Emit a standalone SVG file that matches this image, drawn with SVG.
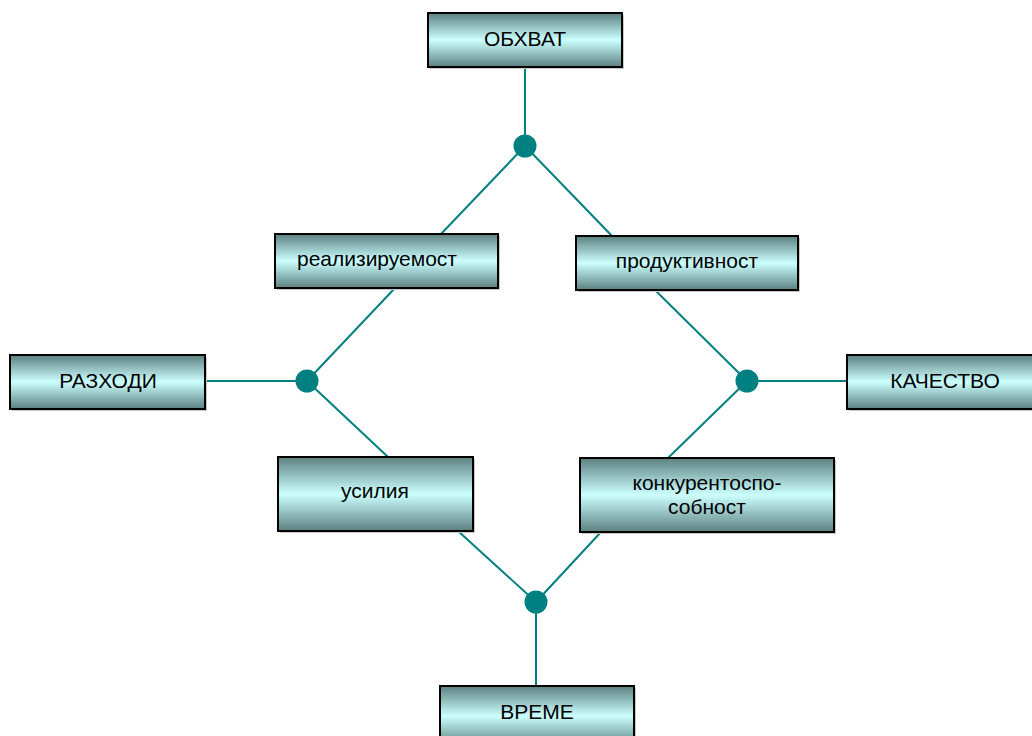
<svg xmlns="http://www.w3.org/2000/svg" width="1032" height="736" viewBox="0 0 1032 736">
<defs>
<linearGradient id="g" x1="0" y1="0" x2="0" y2="1">
<stop offset="0" stop-color="#5c8080"/>
<stop offset="0.5" stop-color="#ccffff"/>
<stop offset="1" stop-color="#5c8080"/>
</linearGradient>
<style>
.box{fill:url(#g);stroke:#000;stroke-width:2}
.sh{fill:#c8c8c8}
.t{font-family:"Liberation Sans",Arial,sans-serif;font-size:21px;fill:#000;text-anchor:middle;dominant-baseline:central}
.c line{stroke:#008080;stroke-width:2}
.dot{fill:#008080}
</style>
</defs>
<rect width="1032" height="736" fill="#fff"/>
<g class="c" id="connectors">
<line x1="525" y1="67" x2="525" y2="146"/>
<line x1="525" y1="146" x2="441" y2="234"/>
<line x1="525" y1="146" x2="612" y2="236"/>
<line x1="395" y1="288" x2="307" y2="381"/>
<line x1="307" y1="381" x2="388" y2="457"/>
<line x1="205" y1="381" x2="307" y2="381"/>
<line x1="655" y1="290" x2="747" y2="381"/>
<line x1="747" y1="381" x2="668" y2="458"/>
<line x1="747" y1="381" x2="847" y2="381"/>
<line x1="458" y1="531" x2="536" y2="602"/>
<line x1="601" y1="532" x2="536" y2="602"/>
<line x1="536" y1="602" x2="536" y2="686"/>
<circle class="dot" cx="525" cy="146" r="11.5"/>
<circle class="dot" cx="307" cy="381" r="11.5"/>
<circle class="dot" cx="747" cy="381" r="11.5"/>
<circle class="dot" cx="536" cy="602" r="11.5"/>
</g>
<g id="n-obhvat">
<rect class="sh" x="430" y="15" width="194" height="54"/>
<rect class="box" x="428" y="13" width="194" height="54"/>
<text class="t" x="525" y="38">ОБХВАТ</text>
</g>
<g id="n-realiz">
<rect class="sh" x="277" y="236" width="223" height="54"/>
<rect class="box" x="275" y="234" width="223" height="54"/>
<text class="t" x="377" y="258">реализируемост</text>
</g>
<g id="n-produkt">
<rect class="sh" x="578" y="238" width="222" height="54"/>
<rect class="box" x="576" y="236" width="222" height="54"/>
<text class="t" x="687" y="260">продуктивност</text>
</g>
<g id="n-razhodi">
<rect class="sh" x="12" y="357" width="195" height="54"/>
<rect class="box" x="10" y="355" width="195" height="54"/>
<text class="t" x="108" y="380">РАЗХОДИ</text>
</g>
<g id="n-kachestvo">
<rect class="sh" x="849" y="357" width="200" height="54"/>
<rect class="box" x="847" y="355" width="200" height="54"/>
<text class="t" x="945" y="380">КАЧЕСТВО</text>
</g>
<g id="n-usilia">
<rect class="sh" x="280" y="459" width="195" height="74"/>
<rect class="box" x="278" y="457" width="195" height="74"/>
<text class="t" x="375" y="490">усилия</text>
</g>
<g id="n-konkur">
<rect class="sh" x="582" y="460" width="254" height="74"/>
<rect class="box" x="580" y="458" width="254" height="74"/>
<text class="t" x="707" y="482">конкурентоспо-</text>
<text class="t" x="707" y="506">собност</text>
</g>
<g id="n-vreme">
<rect class="sh" x="442" y="688" width="194" height="60"/>
<rect class="box" x="440" y="686" width="194" height="60"/>
<text class="t" x="537" y="711">ВРЕМЕ</text>
</g>
</svg>
